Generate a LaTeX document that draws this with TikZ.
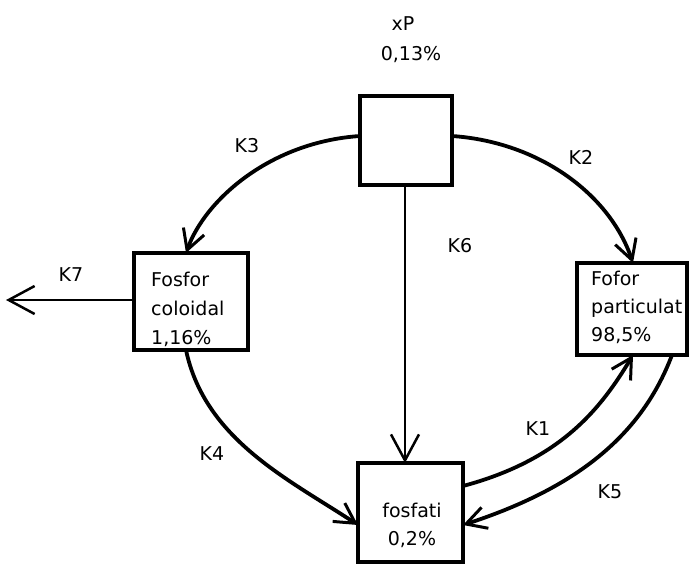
\documentclass[tikz,border=0pt]{standalone}
\usepackage{fontspec}
\setmainfont{DejaVu Sans}
\usetikzlibrary{arrows.meta}
\begin{document}
\begin{tikzpicture}[x=1pt,y=-1pt,
  box/.style={draw,line width=3.3pt,inner sep=0pt},
  lbl/.style={font=\fontsize{19}{29}\selectfont,inner sep=0pt,anchor=base},
  boxtext/.style={font=\fontsize{19}{29}\selectfont,inner sep=0pt,align=left,anchor=base west},
  flow/.style={line width=3.8pt,-{Straight Barb[length=20pt,width=22pt,line width=3pt]}},
  link/.style={line width=2.5pt,-{Straight Barb[length=26pt,width=28pt,line width=2.5pt]}}]
\useasboundingbox (0,0) rectangle (689,563);
% compartments
\draw[box] (360,96) rectangle (452,185);
\draw[box] (134,253) rectangle (248,350);
\draw[box] (577,263) rectangle (687,355);
\draw[box] (358,463) rectangle (463,562);
% anchor points on the compartment borders
\coordinate (xpL) at (360,136);
\coordinate (xpR) at (452,136);
\coordinate (xpB) at (405,185);
\coordinate (colT) at (186,253);
\coordinate (colL) at (134,300);
\coordinate (colB) at (186,350);
\coordinate (parT) at (633,263);
\coordinate (parB1) at (633,355);
\coordinate (parB2) at (672,355);
\coordinate (fosT) at (405,463);
\coordinate (fosL) at (358,525);
\coordinate (fosR1) at (463,486);
\coordinate (fosR2) at (463,525);
\coordinate (out) at (6,300);
% texts
\node[lbl] (txp) at (403,30) {xP};
\node[lbl] (txpv) at (411,60) {0,13\%};
\node[boxtext] (tcol1) at (151,286) {Fosfor};
\node[boxtext] (tcol2) at (151,315) {coloidal};
\node[boxtext] (tcol3) at (151,344) {1,16\%};
\node[boxtext] (tpar1) at (591,285) {Fofor};
\node[boxtext] (tpar2) at (591,313) {particulat};
\node[boxtext] (tpar3) at (591,341) {98,5\%};
\node[lbl] (tfos1) at (412,517) {fosfati};
\node[lbl] (tfos2) at (412,545) {0,2\%};
% flows
\draw[link] (xpB) -- (fosT);
\draw[flow] (xpL) .. controls (270,142) and (205,200) .. (colT);
\draw[flow] (xpR) .. controls (540,142) and (610,195) .. (parT);
\draw[link] (colL) -- (out);
\draw[flow] (colB) .. controls (205,440) and (290,480) .. (fosL);
\draw[flow] (fosR1) .. controls (560,460) and (600,410) .. (parB1);
\draw[flow] (parB2) .. controls (640,440) and (570,490) .. (fosR2);
% rate constants
\node[lbl] (k1) at (538,435) {K1};
\node[lbl] (k2) at (581,164) {K2};
\node[lbl] (k3) at (247,152) {K3};
\node[lbl] (k4) at (212,460) {K4};
\node[lbl] (k5) at (610,498) {K5};
\node[lbl] (k6) at (460,252) {K6};
\node[lbl] (k7) at (71,281) {K7};
\end{tikzpicture}
\end{document}
